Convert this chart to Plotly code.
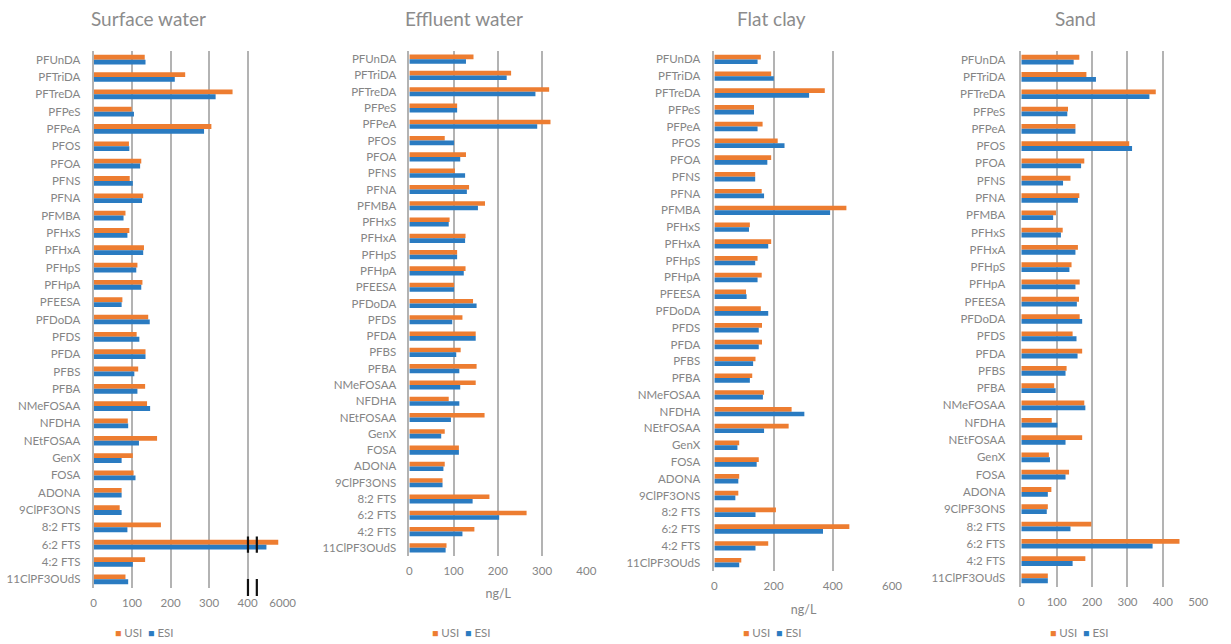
import plotly.graph_objects as go

W, H = 1231, 644

compounds = [
    "PFUnDA", "PFTriDA", "PFTreDA", "PFPeS", "PFPeA", "PFOS", "PFOA", "PFNS",
    "PFNA", "PFMBA", "PFHxS", "PFHxA", "PFHpS", "PFHpA", "PFEESA", "PFDoDA",
    "PFDS", "PFDA", "PFBS", "PFBA", "NMeFOSAA", "NFDHA", "NEtFOSAA", "GenX",
    "FOSA", "ADONA", "9ClPF3ONS", "8:2 FTS", "6:2 FTS", "4:2 FTS", "11ClPF3OUdS",
]

# ng/L per compound, USI and ESI
surface_usi = [133, 238, 361, 99, 306, 92, 124, 94, 129, 83, 93, 131, 114, 127, 75, 142,
               112, 135, 116, 134, 139, 89, 165, 102, 104, 73, 68, 175, 5950, 134, 83]
surface_esi = [135, 211, 317, 105, 287, 93, 121, 102, 126, 78, 88, 129, 111, 124, 73, 146,
               119, 135, 106, 114, 147, 90, 118, 73, 109, 73, 73, 88, 5815, 102, 90]

effluent_usi = [145, 230, 316, 108, 319, 80, 128, 103, 135, 171, 91, 127, 108, 127, 101, 144,
                120, 150, 116, 152, 150, 89, 170, 80, 112, 80, 75, 181, 265, 147, 84]
effluent_esi = [128, 220, 285, 108, 289, 101, 115, 126, 130, 155, 89, 126, 108, 123, 101, 152,
                97, 150, 106, 113, 115, 113, 94, 72, 112, 77, 75, 143, 203, 120, 82]

clay_usi = [157, 192, 373, 134, 163, 214, 192, 138, 160, 446, 120, 192, 146, 160, 107, 157,
            161, 161, 139, 128, 168, 261, 251, 84, 150, 84, 81, 208, 456, 182, 91]
clay_esi = [146, 201, 320, 134, 146, 237, 179, 138, 168, 391, 117, 182, 138, 146, 109, 182,
            150, 150, 131, 120, 164, 304, 168, 78, 143, 81, 71, 139, 367, 139, 84]

sand_usi = [164, 184, 380, 132, 153, 305, 178, 139, 164, 98, 117, 160, 142, 165, 163, 165,
            145, 172, 128, 93, 178, 86, 172, 78, 135, 85, 75, 198, 447, 181, 75]
sand_esi = [148, 211, 362, 130, 153, 313, 169, 118, 160, 90, 112, 153, 136, 153, 157, 172,
            156, 159, 125, 97, 181, 102, 125, 81, 125, 75, 72, 139, 371, 145, 75]

panel_titles = ["Surface water", "Effluent water", "Flat clay", "Sand"]
series_names = ["USI", "ESI"]

# Surface water uses a broken axis: 0-400 is linear, then 5600-6000 is squeezed in after the break
surface_ticks = [0, 100, 200, 300, 400, 6000]
BREAK_LOW, BREAK_HIGH, AXIS_TOP = 400, 5600, 6000
BREAK_DISPLAY_TOP = 491


def surface_display(v):
    if v <= BREAK_LOW:
        return v
    return BREAK_LOW + (v - BREAK_HIGH) * (BREAK_DISPLAY_TOP - BREAK_LOW) / (AXIS_TOP - BREAK_HIGH)


effluent_ticks = [0, 100, 200, 300, 400]
clay_ticks = [0, 200, 400, 600]
sand_ticks = [0, 100, 200, 300, 400, 500]

USI_COLOR = "#ED7D31"
ESI_COLOR = "#2A7BC1"
GRID = "#B3B3B3"
TEXT = "#858585"
FONT = "Lato"

# pixel layout of each panel: plot-area left/right/top/bottom, axis range end,
# label standoff, title centre x, x-axis title and its standoff, legend centre x
panels = [
    dict(left=91.7, right=284.1, top=51, bottom=588, rmax=493, stand=9, tx=147,
         xtitle=None, xstand=0, legend_x=143),
    dict(left=411.7, right=591.9, top=51, bottom=556, rmax=402, stand=9, tx=467,
         xtitle="ng/L", xstand=13, legend_x=464),
    dict(left=720.7, right=901.6, top=51, bottom=571, rmax=603, stand=10, tx=779,
         xtitle="ng/L", xstand=14, legend_x=779),
    dict(left=1031.7, right=1211.7, top=51, bottom=587, rmax=502, stand=12, tx=1087,
         xtitle=None, xstand=0, legend_x=1090),
]

data_sets = [
    ([surface_display(v) for v in surface_usi], [surface_display(v) for v in surface_esi],
     surface_usi, surface_esi),
    (effluent_usi, effluent_esi, effluent_usi, effluent_esi),
    (clay_usi, clay_esi, clay_usi, clay_esi),
    (sand_usi, sand_esi, sand_usi, sand_esi),
]
tick_sets = [
    ([surface_display(t) for t in surface_ticks], [str(t) for t in surface_ticks]),
    (effluent_ticks, [str(t) for t in effluent_ticks]),
    (clay_ticks, [str(t) for t in clay_ticks]),
    (sand_ticks, [str(t) for t in sand_ticks]),
]

fig = go.Figure()
layout = dict(
    width=W, height=H, autosize=False,
    margin=dict(l=0, r=0, t=0, b=0),
    paper_bgcolor="white", plot_bgcolor="white",
    barmode="group", bargap=0.44, bargroupgap=0,
    showlegend=False,
    font=dict(family=FONT, color=TEXT, size=11.5),
)
annotations = []
shapes = []

n = len(compounds)
for i, (p, (du, de, ru, re), (tv, tt)) in enumerate(zip(panels, data_sets, tick_sets)):
    k = "" if i == 0 else str(i + 1)
    xa, ya = "x" + k, "y" + k
    for name, disp, raw, color in ((series_names[0], du, ru, USI_COLOR),
                                   (series_names[1], de, re, ESI_COLOR)):
        fig.add_trace(go.Bar(
            x=disp, y=compounds, orientation="h", name=name,
            marker=dict(color=color, line=dict(width=0)),
            customdata=raw, hovertemplate="%{y}: %{customdata} ng/L<extra>" + name + "</extra>",
            xaxis=xa, yaxis=ya,
        ))
    layout["xaxis" + k] = dict(
        domain=[p["left"] / W, p["right"] / W], range=[0, p["rmax"]],
        anchor=ya, tickmode="array", tickvals=tv, ticktext=tt,
        showgrid=True, gridcolor=GRID, gridwidth=1.6, zeroline=False, showline=False,
        ticks="", ticklabelstandoff=6, tickfont=dict(size=11.5, color=TEXT, family=FONT),
        fixedrange=True,
    )
    if p["xtitle"]:
        layout["xaxis" + k]["title"] = dict(text=p["xtitle"], standoff=p["xstand"],
                                            font=dict(size=12.5, color=TEXT, family=FONT))
    layout["yaxis" + k] = dict(
        domain=[1 - p["bottom"] / H, 1 - p["top"] / H], anchor=xa,
        type="category", categoryorder="array", categoryarray=compounds,
        range=[n - 0.5, -0.5], showgrid=False, zeroline=False,
        showline=True, linecolor=GRID, linewidth=1.6,
        ticks="", ticklabelstandoff=p["stand"],
        tickfont=dict(size=11.5, color=TEXT, family=FONT), fixedrange=True,
    )
    annotations.append(dict(
        text=panel_titles[i], xref="paper", yref="paper",
        x=p["tx"] / W, y=1 - 18 / H, xanchor="center", yanchor="middle",
        showarrow=False, font=dict(size=19, color="#8C8C8C", family=FONT),
    ))
    annotations.append(dict(
        text=(f'<span style="color:{USI_COLOR};font-size:10.5px">■</span> {series_names[0]}  '
              f'<span style="color:{ESI_COLOR};font-size:10.5px">■</span> {series_names[1]}'),
        xref="paper", yref="paper", x=p["legend_x"] / W, y=1 - 632 / H,
        xanchor="center", yanchor="middle", showarrow=False,
        font=dict(size=11.5, color=TEXT, family=FONT),
    ))

# break marks on the Surface water axis
break_marks = [401, 424]
row_62 = compounds.index("6:2 FTS")
for bx in break_marks:
    shapes.append(dict(type="line", xref="x", yref="y", x0=bx, x1=bx,
                       y0=row_62 - 0.47, y1=row_62 + 0.47,
                       line=dict(color="#111111", width=2.2), layer="above"))
    shapes.append(dict(type="line", xref="x domain", yref="paper",
                       x0=bx / panels[0]["rmax"], x1=bx / panels[0]["rmax"],
                       y0=1 - 579 / H, y1=1 - 596 / H,
                       line=dict(color="#111111", width=2.2), layer="above"))

layout["annotations"] = annotations
layout["shapes"] = shapes
fig.update_layout(**layout)

fig.write_html("out.html")
